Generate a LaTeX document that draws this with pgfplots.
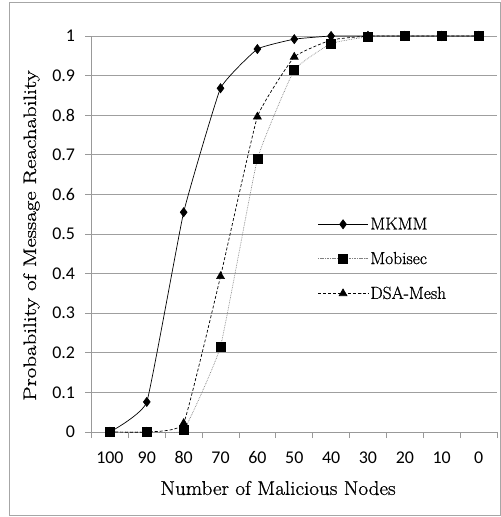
\documentclass[border=0pt]{standalone}
\usepackage{pgfplots}
\usepackage{graphicx}
\pgfplotsset{compat=1.18}
\usepackage{fontspec}
\newfontfamily\tickfont{Carlito}
\newfontfamily\labfont{Latin Modern Roman}[FakeBold=0.8]
\pgfplotsset{myleg/.style={legend image code/.code={\draw[mark repeat=2,mark phase=2,##1] plot coordinates {(0bp,0bp) (25bp,0bp) (50bp,0bp)};}}}
\begin{document}
\begin{tikzpicture}
\useasboundingbox (-91.5bp,-85bp) rectangle (409.5bp,432bp);
\draw[gray!70, line width=0.8bp] (-82bp,-83bp) rectangle (408.5bp,430bp);
\begin{axis}[
  at={(0,0)}, anchor=south west,
  scale only axis, width=405.5bp, height=396bp,
  xmin=-0.5, xmax=10.5, ymin=0, ymax=1,
  axis lines*=left, axis line style={-, gray!80, line width=0.8bp},
  ymajorgrids, grid style={gray!75, line width=0.8bp},
  tick align=outside, major tick length=6bp,
  tick style={gray!80, line width=0.8bp},
  /pgf/number format/assume math mode=true,
  ticklabel style={font=\tickfont\fontsize{18}{18}\selectfont, text=black},
  ytick={0,0.1,0.2,0.3,0.4,0.5,0.6,0.7,0.8,0.9,1},
  yticklabels={0,0.1,0.2,0.3,0.4,0.5,0.6,0.7,0.8,0.9,1},
  yticklabel style={xshift=-7bp},
  xtick={-0.5,0.5,1.5,2.5,3.5,4.5,5.5,6.5,7.5,8.5,9.5,10.5},
  xticklabels={},
  extra x ticks={0,1,2,3,4,5,6,7,8,9,10},
  extra x tick labels={100,90,80,70,60,50,40,30,20,10,0},
  extra x tick style={major tick length=0pt, grid=none, xticklabel style={yshift=-16bp}},
  every axis x label/.style={at={(axis description cs:0.46,-0.1414)}, anchor=center},
  every axis y label/.style={at={(axis description cs:-0.148,0.496)}, rotate=90, anchor=center},
  xlabel={\scalebox{1.06}[1]{\labfont\fontsize{20}{24}\selectfont Number of Malicious Nodes}},
  ylabel={\scalebox{1.28}[1]{\labfont\fontsize{18}{22}\selectfont Probability of Message Reachability}},
  legend style={draw=none, fill=none, at={(axis description cs:0.55,0.552)}, anchor=north west,
    font=\labfont\fontsize{17.5}{21}\selectfont, row sep=17bp, cells={anchor=west}},
]
\addplot[myleg, black, line width=0.7bp, mark=diamond*, mark size=4.5bp, smooth, tension=0.2]
  coordinates {(0,0) (1,0.076) (2,0.555) (3,0.868) (4,0.967) (5,0.992) (6,1.0) (7,1.0) (8,1.0) (9,1.0) (10,1.0)};
\addlegendentry{MKMM}
\addplot[myleg, gray, line width=0.7bp, densely dotted, mark=square*, mark options={solid, black}, mark size=4.5bp, smooth, tension=0.2]
  coordinates {(0,0) (1,0) (2,0.005) (3,0.216) (4,0.689) (5,0.914) (6,0.981) (7,0.998) (8,1.0) (9,1.0) (10,1.0)};
\addlegendentry{Mobisec}
\addplot[myleg, black, line width=0.7bp, densely dashed, mark=triangle*, mark options={solid}, mark size=4.5bp, smooth, tension=0.2]
  coordinates {(0,0) (1,0) (2,0.022) (3,0.393) (4,0.796) (5,0.947) (6,0.99) (7,1.0) (8,1.0) (9,1.0) (10,1.0)};
\addlegendentry{DSA-Mesh}
\end{axis}
\end{tikzpicture}
\end{document}
